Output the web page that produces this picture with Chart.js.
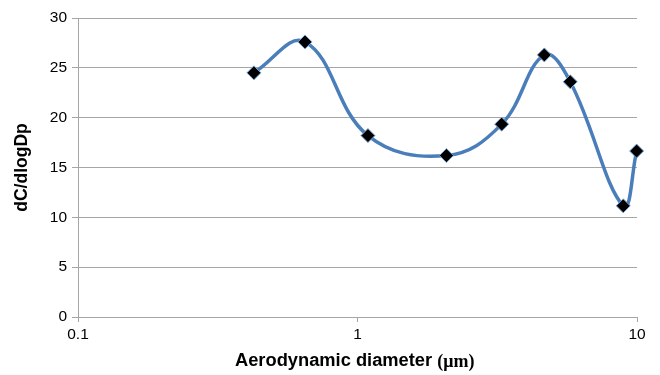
<!DOCTYPE html>
<html>
<head>
<meta charset="utf-8">
<script src="https://cdn.jsdelivr.net/npm/chart.js@4"></script>
<style>
  html, body { margin: 0; padding: 0; background: #fff; }
  #wrap { width: 660px; height: 375px; position: relative; }
</style>
</head>
<body>
<div id="wrap"><canvas id="grafico" width="660" height="375"></canvas></div>
<script>
// dados
var diametros = [0.426, 0.649, 1.09, 2.08, 3.28, 4.66, 5.77, 8.93, 9.97];
var concentracoes = [24.5, 27.6, 18.2, 16.2, 19.35, 26.3, 23.6, 11.15, 16.65];
var ticksX = [0.1, 1, 10];

var tituloX = "Aerodynamic diameter ";
var unidadeX = "(\u03bcm)";
var tituloY = "dC/dlogDp";

var corGrade = "#a6a6a6";

// título do eixo x com duas fontes (texto + unidade em serifa)
var tituloEixoX = {
    id: "tituloEixoX",
    afterDraw: function (chart) {
        var ctx = chart.ctx;
        var area = chart.chartArea;
        ctx.save();
        var f1 = "bold 18.3px 'Liberation Sans', Arial, sans-serif";
        var f2 = "bold 18px 'Liberation Serif', 'Times New Roman', serif";
        ctx.font = f1;
        var w1 = ctx.measureText(tituloX).width;
        ctx.font = f2;
        var w2 = ctx.measureText(unidadeX).width;
        var x0 = 235;
        var y = 361;
        ctx.fillStyle = "#000";
        ctx.textBaseline = "middle";
        ctx.textAlign = "left";
        ctx.font = f1;
        ctx.fillText(tituloX, x0, y);
        ctx.font = f2;
        ctx.fillText(unidadeX, x0 + w1, y + 1);
        ctx.restore();
    }
};

var pontos = diametros.map(function (d, i) {
    return { x: d, y: concentracoes[i] };
});

new Chart(document.getElementById("grafico"), {
    type: "line",
    data: {
        datasets: [{
            data: pontos,
            borderColor: "#4a7ebb",
            borderWidth: 3.5,
            tension: 0.4,
            pointStyle: "rectRot",
            pointRadius: 7,
            pointBackgroundColor: "#000",
            pointBorderColor: "#7aa6d8",
            pointBorderWidth: 1,
            clip: false
        }]
    },
    options: {
        responsive: false,
        animation: false,
        devicePixelRatio: 1,
        layout: { padding: { left: 0, right: 23, top: 18, bottom: 0 } },
        plugins: {
            legend: { display: false },
            tooltip: { enabled: false }
        },
        scales: {
            x: {
                type: "logarithmic",
                min: 0.1,
                max: 10,
                afterBuildTicks: function (scale) {
                    scale.ticks = ticksX.map(function (v) { return { value: v }; });
                },
                afterFit: function (scale) { scale.height = 58; },
                ticks: {
                    autoSkip: false,
                    maxRotation: 0,
                    padding: 3,
                    color: "#000",
                    font: { family: "'Liberation Sans', Arial, sans-serif", size: 15.5 },
                    callback: function (v) { return String(v); }
                },
                grid: {
                    drawOnChartArea: false,
                    color: corGrade,
                    tickLength: 5
                },
                border: { color: corGrade, width: 1 }
            },
            y: {
                min: 0,
                max: 30,
                afterFit: function (scale) { scale.width = 78; },
                ticks: {
                    stepSize: 5,
                    padding: 5,
                    color: "#000",
                    font: { family: "'Liberation Sans', Arial, sans-serif", size: 15.5 }
                },
                grid: {
                    color: corGrade,
                    tickLength: 6
                },
                border: { color: corGrade, width: 1 },
                title: {
                    display: true,
                    text: tituloY,
                    color: "#000",
                    padding: { top: 12, bottom: 0 },
                    font: { family: "'Liberation Sans', Arial, sans-serif", size: 17.5, weight: "bold" }
                }
            }
        }
    },
    plugins: [tituloEixoX]
});
</script>
</body>
</html>
